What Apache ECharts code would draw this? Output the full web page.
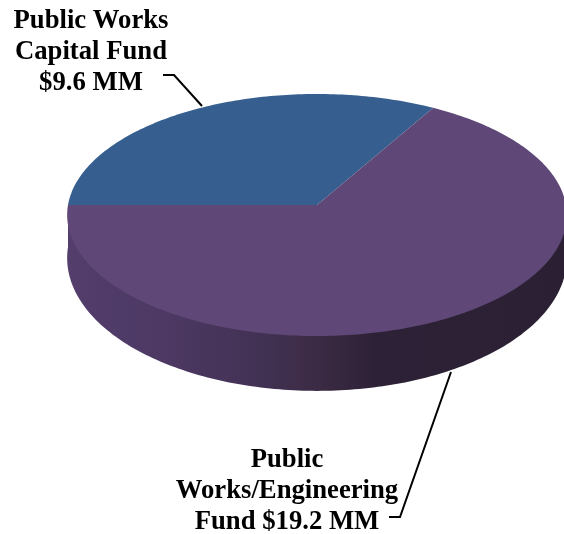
<!DOCTYPE html>
<html>
<head>
<meta charset="utf-8">
<style>html,body{margin:0;padding:0;background:#fff}#chart{width:564px;height:534px}</style>
<script src="https://cdn.jsdelivr.net/npm/echarts@6/dist/echarts.min.js"></script>
</head>
<body>
<div id="chart"></div>
<script>
// Funding sources, in millions of dollars
const fundValues = [9.6, 19.2];
const fundLabels = ['Public Works\nCapital Fund\n', 'Public\nWorks/Engineering\nFund '];
const faceColors = ['#365f8f', '#5f4877'];

// Projected disc: centre, half-width, vertical scale, perspective strength
const disc = { cx: 317, faceY: 205, faceB: 120.2, sideY: 247, sideB: 132, a: 249, k: 0.0826 };
const startAngle = 180;

// Label placement and leader lines for each slice
const labelLayout = [
  { x: 91, y: 6, line: [[163, 75], [174, 75], [202, 106]] },
  { x: 287, y: 445, line: [[389, 517], [400, 517], [451, 372]] }
];
const sideStops = [
  [0, '#533e6c'], [0.18, '#4d3964'], [0.285, '#48355c'], [0.365, '#433256'],
  [0.42, '#3f3050'], [0.46, '#3f2d49'], [0.526, '#382941'], [0.616, '#2d2137'], [1, '#2b2033']
];

function project(deg, y0, b) {
  const t = deg * Math.PI / 180;
  const u = Math.cos(t), v = Math.sin(t);
  const w = 1 + disc.k * v;
  return [disc.cx + disc.a * u / w, y0 - b * v / w];
}

function arcPoints(from, to, y0, b) {
  const n = Math.max(2, Math.ceil(Math.abs(to - from)));
  const pts = [];
  for (let i = 0; i <= n; i++) pts.push(project(from + (to - from) * i / n, y0, b));
  return pts;
}

const total = fundValues.reduce((s, v) => s + v, 0);

function renderSlice(params, api) {
  const i = params.dataIndex;
  const before = fundValues.slice(0, i).reduce((s, v) => s + v, 0);
  const a0 = startAngle - before / total * 360;
  const a1 = a0 - api.value(0) / total * 360;
  const children = [];

  // Front wall: runs under the face so no seam shows along the rim
  const lo = Math.max(a1, -180), hi = Math.min(a0, 0);
  if (hi > lo) {
    const top = [project(hi, disc.faceY, disc.faceB), project(lo, disc.faceY, disc.faceB)];
    const bottom = arcPoints(lo, hi, disc.sideY, disc.sideB);
    children.push({
      type: 'polygon',
      shape: { points: top.concat(bottom) },
      style: {
        fill: new echarts.graphic.LinearGradient(0, 0, 1, 0,
          sideStops.map(s => ({ offset: s[0], color: s[1] })))
      }
    });
  }

  // Top face
  children.push({
    type: 'polygon',
    z2: 2,
    shape: { points: [[disc.cx, disc.faceY]].concat(arcPoints(a0, a1, disc.faceY, disc.faceB)) },
    style: { fill: faceColors[i] }
  });

  // Leader line
  const lay = labelLayout[i];
  children.push({
    type: 'polyline',
    z2: 3,
    shape: { points: lay.line },
    style: { fill: 'none', stroke: '#000', lineWidth: 2 }
  });

  // Fund name and amount
  children.push({
    type: 'text',
    z2: 3,
    x: lay.x,
    y: lay.y,
    style: {
      text: fundLabels[i] + '$' + api.value(0).toFixed(1) + ' MM',
      fill: '#000',
      font: 'bold 26.7px "Liberation Serif"',
      lineHeight: 31,
      align: 'center',
      verticalAlign: 'top'
    }
  });
  return { type: 'group', children };
}

const chart = echarts.init(document.getElementById('chart'), null, { renderer: 'canvas' });
chart.setOption({
  animation: false,
  backgroundColor: '#fff',
  series: [{
    type: 'custom',
    coordinateSystem: 'none',
    renderItem: renderSlice,
    data: fundValues.map(v => [v]),
    silent: true
  }]
});
</script>
</body>
</html>
